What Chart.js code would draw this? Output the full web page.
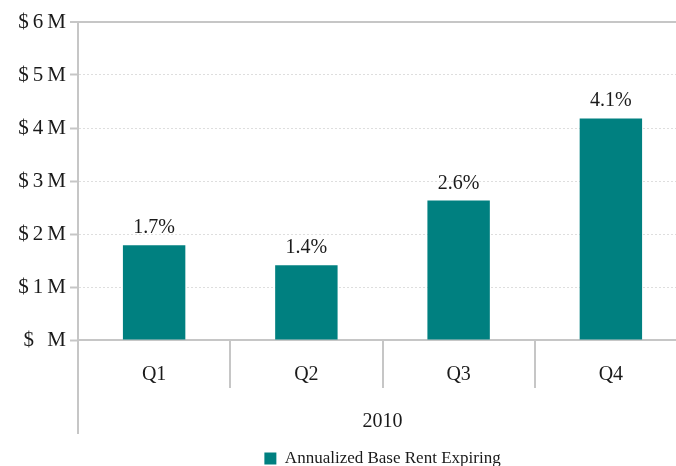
<!DOCTYPE html>
<html lang="en">
<head>
    <meta charset="UTF-8">
    <title>Annualized Base Rent Expiring</title>
    <style>
        html, body {
            margin: 0;
            padding: 0;
            background: #ffffff;
            overflow: hidden;
        }
        #wrap {
            position: relative;
            width: 780px;
            height: 466px;
        }
    </style>
</head>
<body>
    <div id="wrap">
        <canvas id="rentChart"></canvas>
    </div>

    <script src="https://cdn.jsdelivr.net/npm/chart.js"></script>
    <script>
        // Data ($ millions expiring per quarter)
        var quarters = ['Q1', 'Q2', 'Q3', 'Q4'];
        var yearLabels = ['2010'];
        var rentExpiring = [1.79, 1.41, 2.63, 4.18];
        var pctLabels = ['1.7%', '1.4%', '2.6%', '4.1%'];
        var yTickLabels = ['$ M', '$1M', '$2M', '$3M', '$4M', '$5M', '$6M'];

        var serif = "'Liberation Serif', 'Times New Roman', serif";
        var axisGray = '#c6c6c6';
        var teal = '#008080';

        // percentages written above each bar; the y tick layer (z: 1) is
        // drawn right after this hook, so its letter spacing is set here
        var barLabels = {
            id: 'barLabels',
            afterDatasetsDraw: function(chart) {
                var ctx = chart.ctx;
                var meta = chart.getDatasetMeta(0);
                ctx.save();
                ctx.font = '20px ' + serif;
                ctx.fillStyle = '#1a1a1a';
                ctx.textAlign = 'center';
                ctx.textBaseline = 'alphabetic';
                meta.data.forEach(function(bar, i) {
                    ctx.fillText(pctLabels[i], bar.x, bar.y - 12);
                });
                ctx.restore();
                ctx.letterSpacing = '4px';
            },
            afterDraw: function(chart) {
                chart.ctx.letterSpacing = '0px';
            }
        };

        var ctx = document.getElementById('rentChart').getContext('2d');
        var myChart = new Chart(ctx, {
            type: 'bar',
            data: {
                labels: quarters,
                datasets: [{
                    label: 'Annualized Base Rent Expiring',
                    data: rentExpiring,
                    backgroundColor: teal,
                    borderWidth: 0,
                    categoryPercentage: 1,
                    barPercentage: 0.41
                }]
            },
            options: {
                responsive: true,
                maintainAspectRatio: false,
                animation: false,
                layout: {
                    padding: { top: 22, right: 93, bottom: -11, left: 0 }
                },
                scales: {
                    y: {
                        min: 0,
                        max: 6,
                        afterFit: function(scale) { scale.width = 78; },
                        ticks: {
                            stepSize: 1,
                            padding: 0,
                            z: 1,
                            color: '#1a1a1a',
                            font: { family: serif, size: 21 },
                            callback: function(value) {
                                return yTickLabels[value];
                            }
                        },
                        grid: {
                            color: function(c) {
                                return c.tick && c.tick.value === 6 ? axisGray : '#dedede';
                            },
                            lineWidth: function(c) {
                                return c.tick && c.tick.value === 6 ? 2 : 1;
                            },
                            tickColor: axisGray,
                            tickLength: 8,
                            tickWidth: 2
                        },
                        border: {
                            color: axisGray,
                            width: 2,
                            dash: function(c) {
                                return c.tick && c.tick.value === 6 ? [] : [2, 2];
                            }
                        }
                    },
                    x: {
                        weight: 0,
                        offset: true,
                        afterFit: function(scale) { scale.height = 48; },
                        ticks: {
                            padding: -25,
                            color: '#1a1a1a',
                            font: { family: serif, size: 20 }
                        },
                        grid: {
                            offset: true,
                            drawOnChartArea: false,
                            color: axisGray,
                            lineWidth: 2,
                            tickLength: 48
                        },
                        border: { color: axisGray, width: 2 }
                    },
                    x2: {
                        type: 'category',
                        labels: yearLabels,
                        position: 'bottom',
                        weight: 1,
                        offset: true,
                        afterFit: function(scale) { scale.height = 52; },
                        ticks: {
                            padding: -24,
                            color: '#1a1a1a',
                            font: { family: serif, size: 20 }
                        },
                        grid: {
                            offset: true,
                            drawOnChartArea: false,
                            color: axisGray,
                            lineWidth: 2,
                            tickLength: 46
                        },
                        border: { display: false }
                    }
                },
                plugins: {
                    legend: {
                        position: 'bottom',
                        fullSize: false,
                        labels: {
                            boxWidth: 12,
                            boxHeight: 12,
                            padding: 10,
                            color: '#1a1a1a',
                            font: { family: serif, size: 17 }
                        }
                    },
                    tooltip: { enabled: false }
                }
            },
            plugins: [barLabels]
        });
    </script>
</body>
</html>
